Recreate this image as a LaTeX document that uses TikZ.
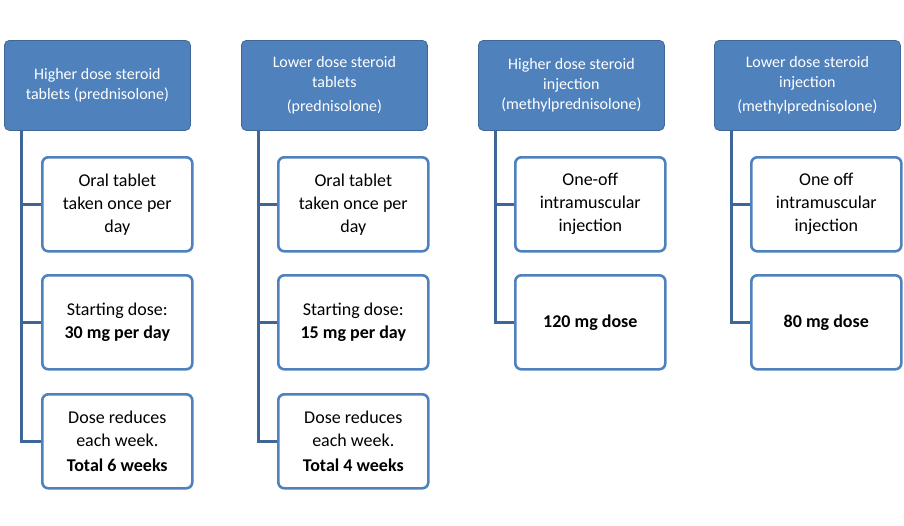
\documentclass[tikz,border=0pt]{standalone}
\usepackage{fontspec}
\setmainfont{Carlito}
\definecolor{hb}{HTML}{4F81BD}
\definecolor{lb}{HTML}{3F6698}
\begin{document}
\begin{tikzpicture}[x=1pt,y=-1pt,
  head/.style={fill=hb,draw=hb!80!black,line width=0.8pt,rounded corners=5pt,minimum width=186pt,minimum height=90pt,text=white,align=center,font=\fontsize{16}{20}\selectfont,anchor=north west,inner sep=2pt},
  kid/.style={fill=white,draw=hb,line width=2.6pt,rounded corners=6pt,minimum width=150pt,minimum height=94pt,align=center,font=\fontsize{18}{23}\selectfont,anchor=north west,inner sep=2pt},
  conn/.style={draw=lb,line width=3pt}]
\useasboundingbox (0,0) rectangle (904,525);
\node[head] (h1) at (4,40) {Higher dose steroid\\tablets (prednisolone)};
\node[head] (h2) at (241,40) {Lower dose steroid\\tablets\\[4pt](prednisolone)};
\node[head] (h3) at (478,40) {Higher dose steroid\\injection\\(methylprednisolone)};
\node[head] (h4) at (714,40) {Lower dose steroid\\injection\\[4pt](methylprednisolone)};
\node[kid] (a1) at (41,156) {Oral tablet\\taken once per\\day};
\node[kid] (a2) at (41,274) {Starting dose:\\\textbf{30 mg per day}};
\node[kid] (a3) at (41,393) {Dose reduces\\each week.\\[2pt]\textbf{Total 6 weeks}};
\node[kid] (b1) at (277,156) {Oral tablet\\taken once per\\day};
\node[kid] (b2) at (277,274) {Starting dose:\\\textbf{15 mg per day}};
\node[kid] (b3) at (277,393) {Dose reduces\\each week.\\[2pt]\textbf{Total 4 weeks}};
\node[kid] (c1) at (514,156) {One-off\\intramuscular\\injection};
\node[kid] (c2) at (514,274) {\textbf{120 mg dose}};
\node[kid] (d1) at (750,156) {One off\\intramuscular\\injection};
\node[kid] (d2) at (750,274) {\textbf{80 mg dose}};
\foreach \h/\x/\kids in {h1/21/{a1,a2,a3},h2/258/{b1,b2,b3},h3/495/{c1,c2},h4/731/{d1,d2}}{
  \foreach \k in \kids {
    \draw[conn] (\x,130) |- (\k.west);
  }
}
\end{tikzpicture}
\end{document}
